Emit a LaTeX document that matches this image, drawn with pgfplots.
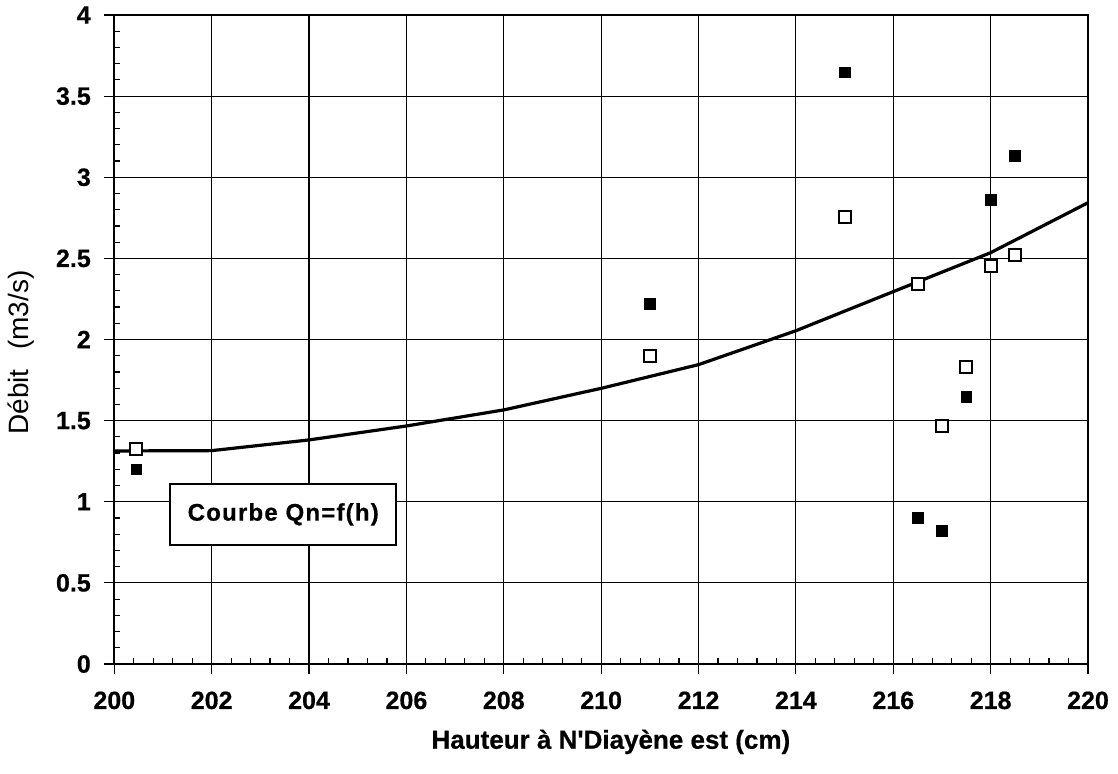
\documentclass[border=0pt]{standalone}
\usepackage{pgfplots}
\pgfplotsset{compat=1.18}
\usepackage{fontspec}
\setmainfont{Liberation Sans}
\newfontfamily\heavy[BoldFeatures={FakeBold=0.6}]{Liberation Sans}
\newfontfamily\labelfont{Liberation Sans}

% rating curve Qn = f(h)
\pgfplotstableread{
h    Q
200  1.313
202  1.315
204  1.381
206  1.467
208  1.566
210  1.699
212  1.845
214  2.054
216  2.295
218  2.535
220  2.843
}\curve

% measured discharges
\pgfplotstableread{
h      Q
200.45 1.200
211    2.219
215    3.647
216.5  0.902
217    0.820
217.5  1.647
218    2.860
218.5  3.135
}\mesA

% computed discharges
\pgfplotstableread{
h      Q
200.45 1.325
211    1.900
215    2.757
216.5  2.340
217    1.467
217.5  1.829
218    2.455
218.5  2.521
}\mesB

\begin{document}
\begin{tikzpicture}[x=1pt,y=1pt]
\useasboundingbox (-114.3,-109) rectangle (1003.7,664);
\begin{axis}[
  at={(0,0)}, anchor=south west,
  scale only axis, width=973.7pt, height=649pt,
  xmin=200, xmax=220, ymin=0, ymax=4,
  xtick={200,202,...,220},
  ytick={0,0.5,...,4},
  minor x tick num=4, minor y tick num=4,
  tick pos=left,
  tick align=inside,
  major tick length=8pt, minor tick length=6pt,
  extra x ticks={200,202,...,220}, extra x tick labels={},
  extra y ticks={0,0.5,...,4}, extra y tick labels={},
  extra tick style={grid=none, tick align=outside, major tick length=10pt},
  every tick/.style={black, line width=1.2pt},
  grid=major,
  major grid style={black, line width=1.1pt},
  axis line style={line width=1.8pt},
  /pgf/number format/assume math mode=true,
  ticklabel style={font=\heavy\bfseries\fontsize{25}{25}\selectfont},
  xticklabel style={yshift=-24pt},
  yticklabel style={xshift=-20pt},
  xlabel={Hauteur à N'Diayène est (cm)},
  ylabel={Débit\hspace{0.7em}(m3/s)},
  xlabel style={font=\heavy\bfseries\fontsize{26}{26}\selectfont,
                at={(axis description cs:0.51,-0.12)}, anchor=center},
  ylabel style={font=\labelfont\fontsize{28}{28}\selectfont,
                at={(axis description cs:-0.096,0.48)}, anchor=center},
  clip=false,
]
\addplot[black, line width=3.2pt, mark=none] table[x=h, y=Q] {\curve};
\addplot[only marks, mark=square*, mark size=5.4pt, mark options={black, fill=black}] table[x=h, y=Q] {\mesA};
\addplot[only marks, mark=square*, mark size=6pt, mark options={draw=black, fill=white, line width=2pt}] table[x=h, y=Q] {\mesB};
\node[draw=black, line width=2.5pt, fill=white, minimum width=226pt, minimum height=61pt,
      font=\heavy\bfseries\fontsize{24}{24}\selectfont\addfontfeature{LetterSpace=5}]
      at (axis cs:203.47,0.922) {Courbe Qn=f(h)};
\end{axis}
\end{tikzpicture}
\end{document}
